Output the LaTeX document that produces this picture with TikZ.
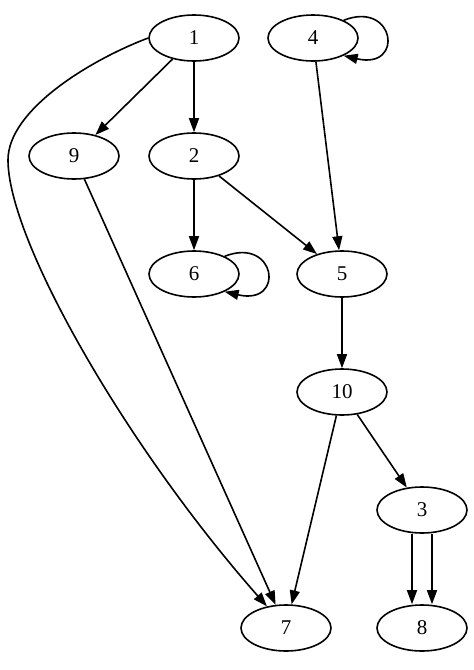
\documentclass[tikz,border=0pt]{standalone}
\usepackage{fontspec}
\setmainfont{Liberation Serif}
\usetikzlibrary{arrows.meta,shapes.geometric}
\begin{document}
\begin{tikzpicture}[x=1pt,y=-1pt,
  gnode/.style={draw,ellipse,line width=1.6pt,minimum width=90pt,minimum height=46pt,inner sep=0pt,font=\fontsize{21}{21}\selectfont},
  garrow/.style={line width=1.6pt,-{Triangle[length=14pt,width=10pt]}}]
\useasboundingbox (0,0) rectangle (474,670);
\node[gnode] (n1) at (194,38) {1};
\node[gnode] (n4) at (313,38) {4};
\node[gnode] (n9) at (74,156) {9};
\node[gnode] (n2) at (194,156) {2};
\node[gnode] (n6) at (194,274) {6};
\node[gnode] (n5) at (342,274) {5};
\node[gnode] (n10) at (342,392) {10};
\node[gnode] (n3) at (422,510) {3};
\node[gnode] (n7) at (286,628) {7};
\node[gnode] (n8) at (422,628) {8};
\draw[garrow] (n1) -- (n9);
\draw[garrow] (n1) -- (n2);
\draw[garrow] (n1.west) .. controls (90,60) and (8,110) .. (8,160) .. controls (8,240) and (125,445) .. (n7);
\draw[garrow] (n4.30) .. controls (395,0) and (405,70) .. (n4.-30);
\draw[garrow] (n4) -- (n5);
\draw[garrow] (n2) -- (n6);
\draw[garrow] (n2) -- (n5);
\draw[garrow] (n6.30) .. controls (276,236) and (286,306) .. (n6.-30);
\draw[garrow] (n9) -- (n7);
\draw[garrow] (n5) -- (n10);
\draw[garrow] (n10) -- (n7);
\draw[garrow] (n10) -- (n3);
\draw[garrow] ([xshift=-10pt]n3.south) -- ([xshift=-10pt]n8.north);
\draw[garrow] ([xshift=10pt]n3.south) -- ([xshift=10pt]n8.north);
\end{tikzpicture}
\end{document}
